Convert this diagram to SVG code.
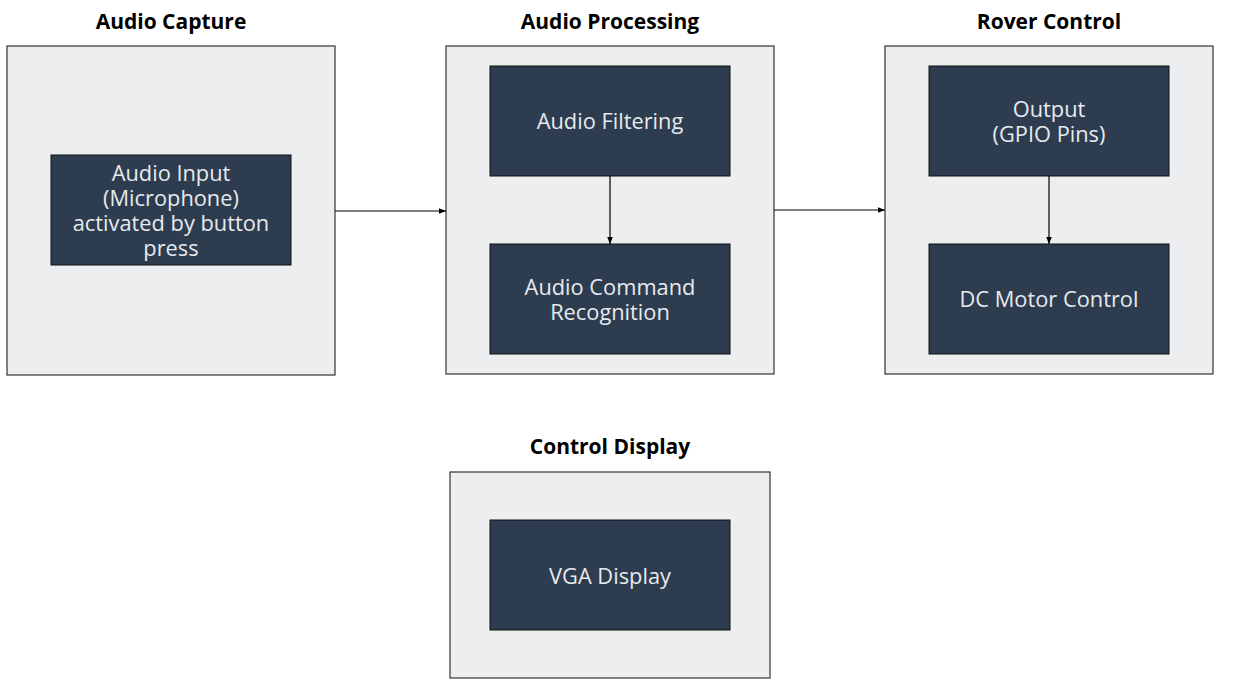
<svg xmlns="http://www.w3.org/2000/svg" width="1234" height="694" viewBox="0 0 1234 694">
<style>
.outer{fill:#eceeef;stroke:#333;stroke-width:1.2}
.inner{fill:#2e3c4f;stroke:#111;stroke-width:1}
.title{font-family:"Open Sans",sans-serif;font-weight:bold;font-size:21px;fill:#000;text-anchor:middle}
.lbl{font-family:"Open Sans",sans-serif;font-weight:500;font-size:21.8px;fill:#e6eaee;text-anchor:middle}
.conn{stroke:#000;stroke-width:1.2;fill:none;marker-end:url(#ah)}
</style>
<defs>
<marker id="ah" viewBox="0 0 10 10" refX="10" refY="5" markerWidth="7" markerHeight="7" markerUnits="userSpaceOnUse" orient="auto">
<path d="M0,1 L10,5 L0,9 Z" fill="#000"/>
</marker>
</defs>
<rect width="1234" height="694" fill="#fff"/>
<g id="audio-capture">
<text class="title" x="171" y="29">Audio Capture</text>
<rect class="outer" x="7" y="46" width="328" height="329"/>
<g id="audio-input">
<rect class="inner" x="51" y="155" width="240" height="110"/>
<text class="lbl" x="171" y="181">Audio Input</text>
<text class="lbl" x="171" y="206">(Microphone)</text>
<text class="lbl" x="171" y="231">activated by button</text>
<text class="lbl" x="171" y="256">press</text>
</g>
</g>
<g id="audio-processing">
<text class="title" x="610" y="29">Audio Processing</text>
<rect class="outer" x="446" y="46" width="328" height="328"/>
<g id="audio-filtering">
<rect class="inner" x="490" y="66" width="240" height="110"/>
<text class="lbl" x="610" y="129">Audio Filtering</text>
</g>
<g id="audio-command-recognition">
<rect class="inner" x="490" y="244" width="240" height="110"/>
<text class="lbl" x="610" y="295">Audio Command</text>
<text class="lbl" x="610" y="320">Recognition</text>
</g>
</g>
<g id="rover-control">
<text class="title" x="1049" y="29">Rover Control</text>
<rect class="outer" x="885" y="46" width="328" height="328"/>
<g id="output-gpio">
<rect class="inner" x="929" y="66" width="240" height="110"/>
<text class="lbl" x="1049" y="117">Output</text>
<text class="lbl" x="1049" y="142">(GPIO Pins)</text>
</g>
<g id="dc-motor-control">
<rect class="inner" x="929" y="244" width="240" height="110"/>
<text class="lbl" x="1049" y="307">DC Motor Control</text>
</g>
</g>
<g id="control-display">
<text class="title" x="610" y="454">Control Display</text>
<rect class="outer" x="450" y="472" width="320" height="206"/>
<g id="vga-display">
<rect class="inner" x="490" y="520" width="240" height="110"/>
<text class="lbl" x="610" y="584">VGA Display</text>
</g>
</g>
<g id="connectors">
<line class="conn" x1="335" y1="211" x2="446" y2="211"/>
<line class="conn" x1="774" y1="210" x2="885" y2="210"/>
<line class="conn" x1="610" y1="176" x2="610" y2="244"/>
<line class="conn" x1="1049" y1="176" x2="1049" y2="244"/>
</g>
</svg>
